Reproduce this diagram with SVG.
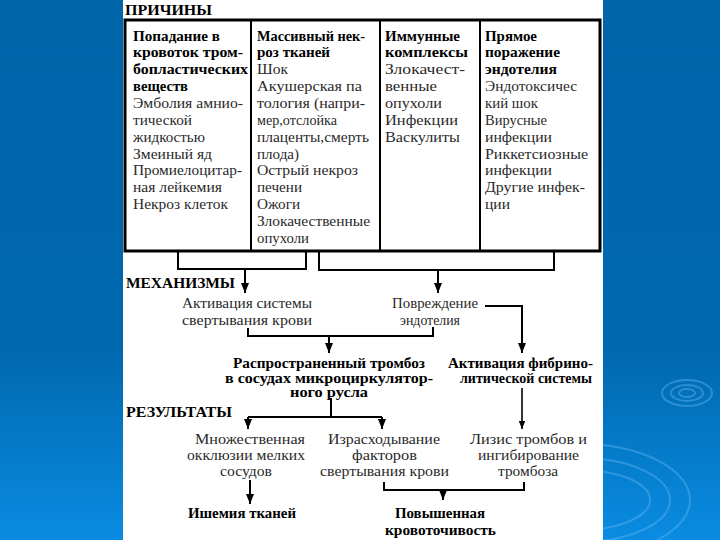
<svg xmlns="http://www.w3.org/2000/svg" width="720" height="540" viewBox="0 0 720 540" font-family="Liberation Serif, Times New Roman, DejaVu Serif, serif">
<defs>
<linearGradient id="bg" x1="0" y1="0" x2="0" y2="1">
<stop offset="0" stop-color="#0065A9"/>
<stop offset="0.65" stop-color="#0068AF"/>
<stop offset="1" stop-color="#0A8CE2"/>
</linearGradient>
<marker id="ah" viewBox="0 0 10 8" refX="10" refY="4" markerWidth="5" markerHeight="4" orient="auto" markerUnits="strokeWidth">
<path d="M0,0 L10,4 L0,8 z" fill="#000"/>
</marker>
<style>
text{font-size:14px;fill:#2a2a2a}
.b{font-weight:bold;fill:#000}
.h{font-weight:bold;fill:#000;font-size:14px}
.ln{fill:none;stroke:#000;stroke-width:2}
.ar{fill:none;stroke:#000;stroke-width:2;marker-end:url(#ah)}
.rip{fill:none;stroke:#5fb4f0;stroke-opacity:0.45;stroke-width:2}
</style>
</defs>
<rect width="720" height="540" fill="url(#bg)"/>
<g id="ripples">
<ellipse class="rip" cx="687" cy="393" rx="8" ry="4"/>
<ellipse class="rip" cx="687" cy="393" rx="16" ry="8"/>
<ellipse class="rip" cx="687" cy="393" rx="25" ry="13"/>
<ellipse class="rip" cx="580" cy="500" rx="70" ry="30"/>
<ellipse class="rip" cx="580" cy="500" rx="90" ry="42"/>
<ellipse class="rip" cx="580" cy="500" rx="110" ry="56"/>
</g>
<rect x="123" y="0" width="480" height="540" fill="#fff"/>

<g id="headings">
<text class="h" x="125" y="15" textLength="87" lengthAdjust="spacingAndGlyphs">ПРИЧИНЫ</text>
<text class="h" x="126" y="288" textLength="109" lengthAdjust="spacingAndGlyphs">МЕХАНИЗМЫ</text>
<text class="h" x="126" y="417" textLength="106" lengthAdjust="spacingAndGlyphs">РЕЗУЛЬТАТЫ</text>
</g>

<g id="causes-table">
<rect x="125" y="20" width="475" height="231" fill="none" stroke="#000" stroke-width="3"/>
<line x1="251" y1="20" x2="251" y2="251" stroke="#000" stroke-width="2"/>
<line x1="380" y1="20" x2="380" y2="251" stroke="#000" stroke-width="2"/>
<line x1="480" y1="20" x2="480" y2="251" stroke="#000" stroke-width="2"/>
</g>

<g id="cause-thromboplastic">
<text class="b" x="133" y="40.5" textLength="87" lengthAdjust="spacingAndGlyphs">Попадание в</text>
<text class="b" x="133" y="57.4" textLength="110" lengthAdjust="spacingAndGlyphs">кровоток тром-</text>
<text class="b" x="133" y="74.2" textLength="115" lengthAdjust="spacingAndGlyphs">бопластических</text>
<text class="b" x="133" y="91.1" textLength="55" lengthAdjust="spacingAndGlyphs">веществ</text>
<text x="133" y="107.9" textLength="110" lengthAdjust="spacingAndGlyphs">Эмболия амнио-</text>
<text x="133" y="124.8" textLength="59" lengthAdjust="spacingAndGlyphs">тической</text>
<text x="133" y="141.6" textLength="72" lengthAdjust="spacingAndGlyphs">жидкостью</text>
<text x="133" y="158.5" textLength="79" lengthAdjust="spacingAndGlyphs">Змеиный яд</text>
<text x="133" y="175.3" textLength="109" lengthAdjust="spacingAndGlyphs">Промиелоцитар-</text>
<text x="133" y="192.2" textLength="89" lengthAdjust="spacingAndGlyphs">ная лейкемия</text>
<text x="133" y="209" textLength="95" lengthAdjust="spacingAndGlyphs">Некроз клеток</text>
</g>

<g id="cause-necrosis">
<text class="b" x="257" y="40.5" textLength="108" lengthAdjust="spacingAndGlyphs">Массивный нек-</text>
<text class="b" x="257" y="57.4" textLength="73" lengthAdjust="spacingAndGlyphs">роз тканей</text>
<text x="257" y="74.2" textLength="31" lengthAdjust="spacingAndGlyphs">Шок</text>
<text x="257" y="91.1" textLength="105" lengthAdjust="spacingAndGlyphs">Акушерская па</text>
<text x="257" y="107.9" textLength="108" lengthAdjust="spacingAndGlyphs">тология (напри-</text>
<text x="257" y="124.8" textLength="80" lengthAdjust="spacingAndGlyphs">мер,отслойка</text>
<text x="257" y="141.6" textLength="112" lengthAdjust="spacingAndGlyphs">плаценты,смерть</text>
<text x="257" y="158.5" textLength="42" lengthAdjust="spacingAndGlyphs">плода)</text>
<text x="257" y="175.3" textLength="101" lengthAdjust="spacingAndGlyphs">Острый некроз</text>
<text x="257" y="192.2" textLength="45" lengthAdjust="spacingAndGlyphs">печени</text>
<text x="257" y="209" textLength="43" lengthAdjust="spacingAndGlyphs">Ожоги</text>
<text x="257" y="225.9" textLength="113" lengthAdjust="spacingAndGlyphs">Злокачественные</text>
<text x="257" y="242.7" textLength="52" lengthAdjust="spacingAndGlyphs">опухоли</text>
</g>

<g id="cause-immune">
<text class="b" x="385" y="40.5" textLength="75" lengthAdjust="spacingAndGlyphs">Иммунные</text>
<text class="b" x="385" y="57.4" textLength="83" lengthAdjust="spacingAndGlyphs">комплексы</text>
<text x="385" y="74.2" textLength="80" lengthAdjust="spacingAndGlyphs">Злокачест-</text>
<text x="385" y="91.1" textLength="52" lengthAdjust="spacingAndGlyphs">венные</text>
<text x="385" y="107.9" textLength="57" lengthAdjust="spacingAndGlyphs">опухоли</text>
<text x="385" y="124.8" textLength="73" lengthAdjust="spacingAndGlyphs">Инфекции</text>
<text x="385" y="141.6" textLength="75" lengthAdjust="spacingAndGlyphs">Васкулиты</text>
</g>

<g id="cause-endothelium">
<text class="b" x="485" y="40.5" textLength="52" lengthAdjust="spacingAndGlyphs">Прямое</text>
<text class="b" x="485" y="57.4" textLength="75" lengthAdjust="spacingAndGlyphs">поражение</text>
<text class="b" x="485" y="74.2" textLength="72" lengthAdjust="spacingAndGlyphs">эндотелия</text>
<text x="485" y="91.1" textLength="92" lengthAdjust="spacingAndGlyphs">Эндотоксичес</text>
<text x="485" y="107.9" textLength="53" lengthAdjust="spacingAndGlyphs">кий шок</text>
<text x="485" y="124.8" textLength="62" lengthAdjust="spacingAndGlyphs">Вирусные</text>
<text x="485" y="141.6" textLength="67" lengthAdjust="spacingAndGlyphs">инфекции</text>
<text x="485" y="158.5" textLength="103" lengthAdjust="spacingAndGlyphs">Риккетсиозные</text>
<text x="485" y="175.3" textLength="67" lengthAdjust="spacingAndGlyphs">инфекции</text>
<text x="485" y="192.2" textLength="100" lengthAdjust="spacingAndGlyphs">Другие инфек-</text>
<text x="485" y="209" textLength="25" lengthAdjust="spacingAndGlyphs">ции</text>
</g>

<g id="connectors">
<path class="ln" d="M178,252 V269 H306 V252"/>
<path class="ar" d="M245,269 V293"/>
<path class="ln" d="M319,252 V270 H554 V252"/>
<path class="ar" d="M438,270 V293"/>
<path class="ln" d="M248,328 V336 H433 V327"/>
<path class="ar" d="M329,336 V353"/>
<path class="ar" d="M485,306 H522 V353"/>
<path class="ln" d="M331,398 V417 M248,417 H382"/>
<path class="ar" d="M248,417 V429"/>
<path class="ar" d="M382,417 V429"/>
<path class="ar" d="M522,388 V429" style="stroke-width:1.6"/>
<path class="ar" d="M250,480 V504"/>
<path class="ln" d="M384,482 V490 H524 V482"/>
<path class="ar" d="M443,490 V500"/>
</g>

<g id="coagulation">
<text x="182" y="307.5" textLength="130" lengthAdjust="spacingAndGlyphs">Активация системы</text>
<text x="182" y="324.5" textLength="130" lengthAdjust="spacingAndGlyphs">свертывания крови</text>
</g>
<g id="endothelial-damage">
<text x="392" y="307.5" textLength="86" lengthAdjust="spacingAndGlyphs">Повреждение</text>
<text x="400" y="324.5" textLength="60" lengthAdjust="spacingAndGlyphs">эндотелия</text>
</g>
<g id="thrombosis">
<text class="b" x="233" y="367.5" textLength="192" lengthAdjust="spacingAndGlyphs">Распространенный тромбоз</text>
<text class="b" x="225" y="382.5" textLength="208" lengthAdjust="spacingAndGlyphs">в сосудах микроциркулятор-</text>
<text class="b" x="290" y="396.5" textLength="78" lengthAdjust="spacingAndGlyphs">ного русла</text>
</g>
<g id="fibrinolysis">
<text class="b" x="448" y="367.5" textLength="145" lengthAdjust="spacingAndGlyphs">Активация фибрино-</text>
<text class="b" x="460" y="382.5" textLength="132" lengthAdjust="spacingAndGlyphs">литической системы</text>
</g>
<g id="occlusion">
<text x="195" y="443.5" textLength="110" lengthAdjust="spacingAndGlyphs">Множественная</text>
<text x="187" y="459.5" textLength="118" lengthAdjust="spacingAndGlyphs">окклюзии мелких</text>
<text x="220" y="475.5" textLength="52" lengthAdjust="spacingAndGlyphs">сосудов</text>
</g>
<g id="consumption">
<text x="328" y="443.5" textLength="112" lengthAdjust="spacingAndGlyphs">Израсходывание</text>
<text x="352" y="459.5" textLength="65" lengthAdjust="spacingAndGlyphs">факторов</text>
<text x="320" y="475.5" textLength="129" lengthAdjust="spacingAndGlyphs">свертывания крови</text>
</g>
<g id="lysis">
<text x="470" y="443.5" textLength="117" lengthAdjust="spacingAndGlyphs">Лизис тромбов и</text>
<text x="478" y="459.5" textLength="101" lengthAdjust="spacingAndGlyphs">ингибирование</text>
<text x="498" y="475.5" textLength="60" lengthAdjust="spacingAndGlyphs">тромбоза</text>
</g>
<g id="ischemia">
<text class="b" x="188" y="517.5" textLength="108" lengthAdjust="spacingAndGlyphs">Ишемия тканей</text>
</g>
<g id="bleeding">
<text class="b" x="395" y="517.5" textLength="90" lengthAdjust="spacingAndGlyphs">Повышенная</text>
<text class="b" x="385" y="534.5" textLength="111" lengthAdjust="spacingAndGlyphs">кровоточивость</text>
</g>
</svg>
